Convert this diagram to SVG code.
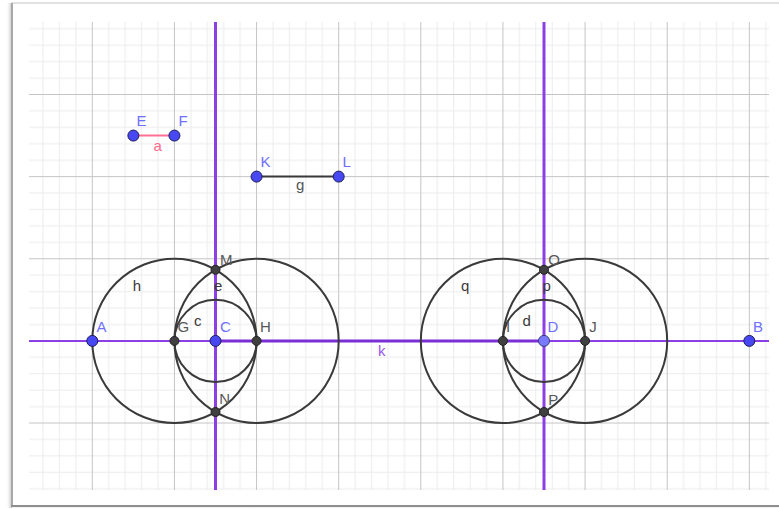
<svg xmlns="http://www.w3.org/2000/svg" width="779" height="509" viewBox="0 0 779 509">
<defs>
<pattern id="grid" patternUnits="userSpaceOnUse" x="51.235" y="53.435" width="82.13" height="82.13">
<path d="M8.21 0V82.13M24.64 0V82.13M57.49 0V82.13M73.92 0V82.13M0 8.21H82.13M0 24.64H82.13M0 57.49H82.13M0 73.92H82.13" stroke="#ececec" stroke-width="1" fill="none"/>
<path d="M41.065 0V82.13M0 41.065H82.13" stroke="#c4c4c4" stroke-width="1" fill="none"/>
</pattern>
<linearGradient id="shl" x1="0" x2="1" y1="0" y2="0"><stop offset="0" stop-color="#ffffff" stop-opacity="0"/><stop offset="1" stop-color="#bdbdbd"/></linearGradient>
<linearGradient id="shb" x1="0" x2="0" y1="0" y2="1"><stop offset="0" stop-color="#a0a0a0"/><stop offset="1" stop-color="#ffffff" stop-opacity="0"/></linearGradient>
</defs>
<style>
.lbl{font-family:"Liberation Sans",Arial,sans-serif;font-size:15px}
.free{fill:#7070ff}
.dep{fill:#575757}
.nm{fill:#3a3a3a}
.circ{fill:none;stroke:#3a3a3a;stroke-width:2}
.pline{stroke:#8b3fe5;fill:none}
.fp{fill:#4848f2;stroke:#1c1c5a;stroke-width:1}
.dp{fill:#404040;stroke:#222;stroke-width:1}
</style>
<rect x="0" y="0" width="779" height="509" fill="#ffffff"/>
<g id="frame">
<rect x="6" y="3" width="6" height="505" fill="url(#shl)"/>
<rect x="11" y="505" width="768" height="4" fill="url(#shb)"/>
<rect x="12" y="3" width="780" height="503" fill="#ffffff" stroke="#d8d8d8" stroke-width="1.5"/>
<path d="M12 3V506" stroke="#a8a8a8" stroke-width="2"/>
<path d="M11 506H779" stroke="#8e8e8e" stroke-width="2"/>
</g>
<rect id="gridarea" x="29" y="22" width="740" height="468" fill="url(#grid)"/>
<g id="connectors">
<path class="pline" d="M215.5 22V490" stroke-width="3"/>
<path class="pline" d="M544 22V490" stroke-width="3"/>
<path class="pline" d="M29 340.9H769" stroke-width="2"/>
<path d="M215.5 340.9H544" stroke="#7a2fd6" stroke-width="3"/>
<path d="M133.37 135.57H174.43" stroke="#ff7094" stroke-width="2"/>
<path d="M256.56 176.6H338.69" stroke="#3a3a3a" stroke-width="2"/>
</g>
<g id="circle-h"><circle class="circ" cx="174.43" cy="340.9" r="82.13"/></g>
<g id="circle-e"><circle class="circ" cx="256.56" cy="340.9" r="82.13"/></g>
<g id="circle-c"><circle class="circ" cx="215.5" cy="340.9" r="41.07"/></g>
<g id="circle-q"><circle class="circ" cx="502.95" cy="340.9" r="82.13"/></g>
<g id="circle-p"><circle class="circ" cx="585.08" cy="340.9" r="82.13"/></g>
<g id="circle-d"><circle class="circ" cx="544" cy="340.9" r="41.07"/></g>
<g id="labels-curves" class="lbl">
<text class="nm" x="132.7" y="290.7">h</text>
<text class="nm" x="214" y="290.7">e</text>
<text class="nm" x="194" y="325.7">c</text>
<text class="nm" x="461" y="290.7">q</text>
<text class="nm" x="542.5" y="290.7">p</text>
<text class="nm" x="522.5" y="325.7">d</text>
<text x="378" y="356" fill="#9a55e8">k</text>
<text x="153.5" y="150.7" fill="#ff6a8e">a</text>
<text x="296" y="190" fill="#555555">g</text>
</g>
<g id="point-A"><circle class="fp" cx="92.3" cy="340.9" r="5.5"/><text class="lbl free" x="96.5" y="331.7">A</text></g>
<g id="point-B"><circle class="fp" cx="749.34" cy="340.9" r="5.5"/><text class="lbl free" x="753" y="331.7">B</text></g>
<g id="point-C"><circle class="fp" cx="215.5" cy="340.9" r="5.5"/><text class="lbl free" x="220" y="331.7">C</text></g>
<g id="point-D"><circle cx="544" cy="340.9" r="5.5" fill="#7a7aff" stroke="#3a3a80" stroke-width="1"/><text class="lbl free" x="547.5" y="331.7">D</text></g>
<g id="point-E"><circle class="fp" cx="133.37" cy="135.57" r="5.5"/><text class="lbl free" x="136.5" y="126">E</text></g>
<g id="point-F"><circle class="fp" cx="174.43" cy="135.57" r="5.5"/><text class="lbl free" x="178.5" y="126">F</text></g>
<g id="point-K"><circle class="fp" cx="256.56" cy="176.6" r="5.5"/><text class="lbl free" x="260.5" y="166.7">K</text></g>
<g id="point-L"><circle class="fp" cx="338.69" cy="176.6" r="5.5"/><text class="lbl free" x="342.5" y="166.7">L</text></g>
<g id="point-G"><circle class="dp" cx="174.43" cy="340.9" r="4.5"/><text class="lbl dep" x="177.5" y="331.7">G</text></g>
<g id="point-H"><circle class="dp" cx="256.56" cy="340.9" r="4.5"/><text class="lbl dep" x="260" y="331.7">H</text></g>
<g id="point-M"><circle class="dp" cx="215.5" cy="269.8" r="4.5"/><text class="lbl dep" x="220" y="264.5">M</text></g>
<g id="point-N"><circle class="dp" cx="215.5" cy="412" r="4.5"/><text class="lbl dep" x="219.3" y="403.5">N</text></g>
<g id="point-I"><circle class="dp" cx="502.95" cy="340.9" r="4.5"/><text class="lbl dep" x="506" y="331.7">I</text></g>
<g id="point-J"><circle class="dp" cx="585.08" cy="340.9" r="4.5"/><text class="lbl dep" x="589.3" y="331.7">J</text></g>
<g id="point-O"><circle class="dp" cx="544" cy="269.8" r="4.5"/><text class="lbl dep" x="548.3" y="264.5">O</text></g>
<g id="point-P"><circle class="dp" cx="544" cy="412" r="4.5"/><text class="lbl dep" x="548.3" y="405">P</text></g>
</svg>
